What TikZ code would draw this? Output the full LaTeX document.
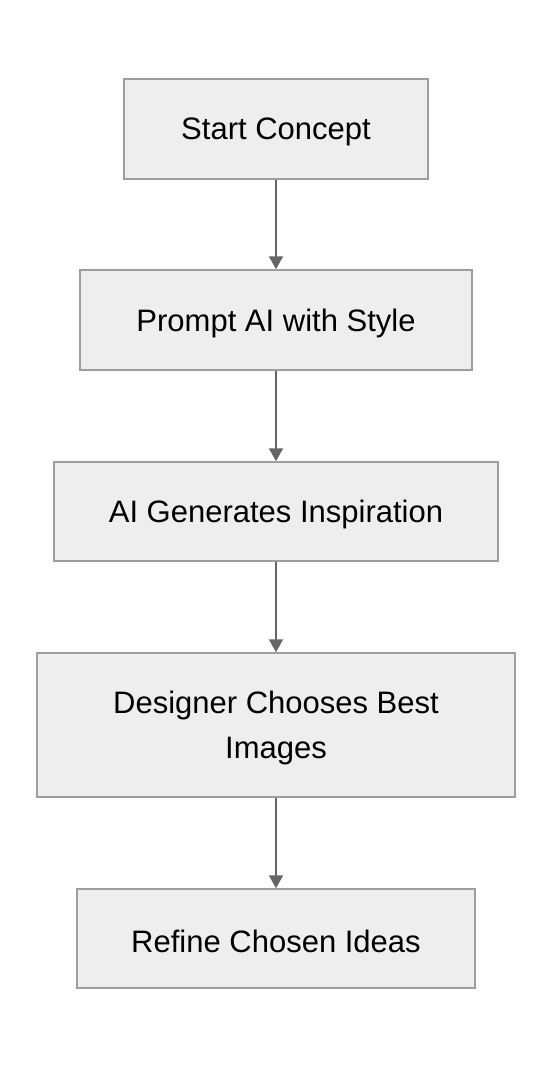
\documentclass[tikz,border=0pt]{standalone}
\usepackage{fontspec}
\setmainfont{Liberation Sans}
\usetikzlibrary{arrows.meta}
\definecolor{boxfill}{HTML}{EEEEEE}
\definecolor{boxline}{HTML}{9E9E9E}
\definecolor{arrowc}{HTML}{666666}
\begin{document}
\begin{tikzpicture}[x=1pt,y=1pt,
  box/.style={draw=boxline, fill=boxfill, line width=1.5pt, inner sep=0pt},
  lbl/.style={font=\fontsize{31}{45}\selectfont, align=center, yshift=-3pt, inner sep=0pt},
  conn/.style={draw=arrowc, line width=2pt, -{Triangle[length=13pt,width=14pt]}}]
\useasboundingbox (0,0) rectangle (552,-1068);
\node[box, minimum width=304pt, minimum height=100pt, label={[lbl]center:Start Concept}] (a) at (276,-129) {};
\node[box, minimum width=392pt, minimum height=100pt, label={[lbl]center:Prompt AI with Style}] (b) at (276,-320) {};
\node[box, minimum width=444pt, minimum height=99pt, label={[lbl]center:AI Generates Inspiration}] (c) at (276,-511.5) {};
\node[box, minimum width=478pt, minimum height=144pt, label={[lbl]center:{Designer Chooses Best\\Images}}] (d) at (276,-725) {};
\node[box, minimum width=398pt, minimum height=99pt, label={[lbl]center:Refine Chosen Ideas}] (e) at (276,-938.5) {};
\draw[conn] (a) -- (b);
\draw[conn] (b) -- (c);
\draw[conn] (c) -- (d);
\draw[conn] (d) -- (e);
\end{tikzpicture}
\end{document}
